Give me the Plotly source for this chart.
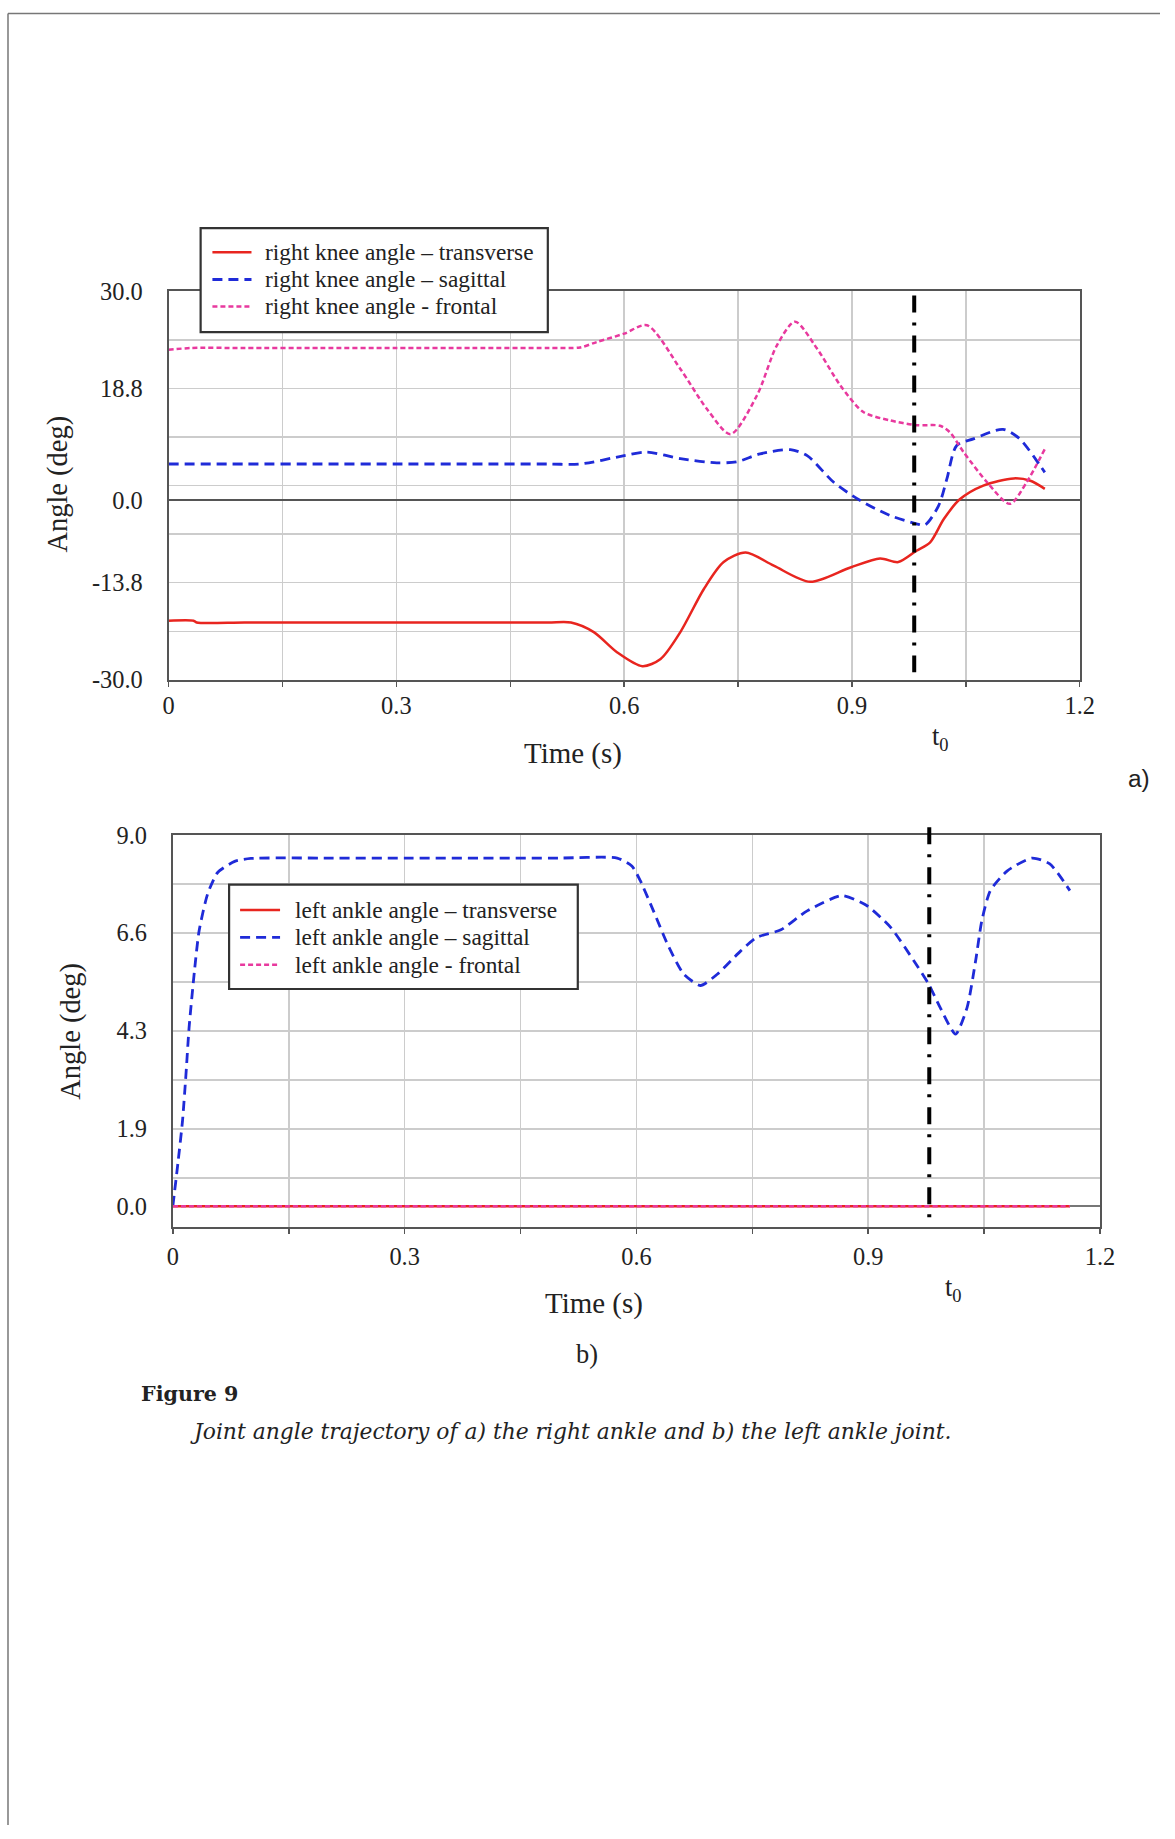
import plotly.graph_objects as go

# ---------------- data: panel a (right knee) ----------------
a_trans_t = [0, 0.033, 0.037, 0.1, 0.2, 0.3, 0.4, 0.5, 0.53, 0.56, 0.591, 0.624, 0.648, 0.674,
             0.705, 0.731, 0.760, 0.797, 0.845, 0.898, 0.937, 0.961, 0.985, 1.003, 1.021,
             1.042, 1.073, 1.113, 1.135, 1.154]
a_trans_v = [-20.1, -20.1, -20.4, -20.4, -20.4, -20.4, -20.4, -20.4, -20.4, -22.0, -25.4, -27.7,
             -26.5, -22.0, -14.8, -10.3, -8.7, -10.9, -13.6, -11.2, -9.7, -10.3, -8.4, -7.0,
             -3.1, 0.2, 2.5, 3.7, 3.3, 1.95]

a_sag_t = [0, 0.1, 0.2, 0.3, 0.4, 0.5, 0.542, 0.600, 0.630, 0.674, 0.722, 0.749, 0.779, 0.819,
           0.841, 0.876, 0.911, 0.950, 0.985, 0.996, 1.014, 1.025, 1.038, 1.060, 1.099, 1.121,
           1.148, 1.154]
a_sag_v = [6.1, 6.1, 6.1, 6.1, 6.1, 6.1, 6.1, 7.5, 8.1, 7.0, 6.3, 6.5, 7.8, 8.5, 7.5, 3.05, 0.0,
           -2.5, -3.9, -4.1, -0.9, 3.6, 9.2, 10.3, 11.9, 10.3, 5.8, 4.7]

a_front_t = [0, 0.03, 0.1, 0.2, 0.3, 0.4, 0.5, 0.542, 0.564, 0.600, 0.630, 0.674, 0.709, 0.740,
             0.775, 0.801, 0.825, 0.854, 0.885, 0.915, 0.950, 0.985, 1.016, 1.029, 1.047, 1.078,
             1.108, 1.130, 1.154]
a_front_v = [25.2, 25.5, 25.5, 25.5, 25.5, 25.5, 25.5, 25.6, 26.5, 27.9, 29.3, 22.0, 15.3, 11.1,
             17.6, 25.9, 29.9, 25.4, 19.2, 14.8, 13.4, 12.6, 12.5, 11.4, 8.1, 3.05, -0.56, 3.05, 8.6]

# ---------------- data: panel b (left ankle) ----------------
b_trans_t = [0, 0.3, 0.6, 0.9, 1.161]
b_trans_v = [0, 0, 0, 0, 0]

b_sag_t = [0, 0.0069, 0.0125, 0.017, 0.021, 0.028, 0.034, 0.045, 0.058, 0.080, 0.101, 0.2, 0.3,
           0.4, 0.5, 0.575, 0.594, 0.605, 0.622, 0.640, 0.661, 0.683, 0.705, 0.735, 0.756, 0.787,
           0.821, 0.866, 0.898, 0.929, 0.959, 0.978, 0.993, 1.013, 1.028, 1.039, 1.047, 1.058,
           1.080, 1.112, 1.135, 1.161]
b_sag_v = [0, 1.1, 2.07, 3.2, 4.33, 5.71, 6.68, 7.57, 8.09, 8.36, 8.43, 8.44, 8.44, 8.44, 8.44,
           8.44, 8.25, 7.89, 7.16, 6.36, 5.63, 5.35, 5.63, 6.19, 6.52, 6.70, 7.16, 7.53, 7.29,
           6.76, 5.95, 5.39, 4.82, 4.17, 4.82, 5.95, 6.92, 7.65, 8.13, 8.44, 8.30, 7.65]

b_front_t = [0, 0.3, 0.6, 0.9, 1.161]
b_front_v = [0, 0, 0, 0, 0]

t0_a = 0.982
t0_b = 0.979

# axis ticks
x_tick_vals = [0, 0.3, 0.6, 0.9, 1.2]
x_tick_text = ["0", "0.3", "0.6", "0.9", "1.2"]
a_ytick_vals = [35, 18.75, 0, -13.75, -30]
a_ytick_text = ["30.0", "18.8", "0.0", "-13.8", "-30.0"]
b_ytick_vals = [9, 6.625, 4.25, 1.875, 0]
b_ytick_text = ["9.0", "6.6", "4.3", "1.9", "0.0"]

a_names = ["right knee angle \u2013 transverse", "right knee angle \u2013 sagittal",
           "right knee angle - frontal"]
b_names = ["left ankle angle \u2013 transverse", "left ankle angle \u2013 sagittal",
           "left ankle angle - frontal"]

# ---------------- layout geometry ----------------
W, H = 1175, 1839
# the photographed page appears slightly scaled/offset; compensate so that
# positions measured on the reference land where they should
SX, SY = 0.983, 0.985
OX, OY = 5.0, 12.6
K = 1 / ((SX + SY) / 2)   # size compensation for fonts

FONT = "Liberation Serif"
TXT = "#222222"
RED = "#e8251f"
BLUE = "#1f2bd8"
PINK = "#e8399e"
GRID = "#cccccc"
FRAME = "#555555"

STYLES = [
    dict(color=RED, width=2.5),
    dict(color=BLUE, width=2.8, dash="10px,6px"),
    dict(color=PINK, width=2.5, dash="5px,3px"),
]


def px(x):
    return ((x - OX) / SX) / W


def py(y):
    return 1 - ((y - OY) / SY) / H


fig = go.Figure()

a_series = [(a_trans_t, a_trans_v), (a_sag_t, a_sag_v), (a_front_t, a_front_v)]
b_series = [(b_trans_t, b_trans_v), (b_sag_t, b_sag_v), (b_front_t, b_front_v)]

for (t, v), name, st in zip(a_series, a_names, STYLES):
    fig.add_trace(go.Scatter(x=t, y=v, mode="lines", name=name, showlegend=False,
                             line=dict(shape="spline", smoothing=0.8, **st), xaxis="x", yaxis="y"))
for (t, v), name, st in zip(b_series, b_names, STYLES):
    fig.add_trace(go.Scatter(x=t, y=v, mode="lines", name=name, showlegend=False,
                             line=dict(shape="spline", smoothing=0.6, **st), xaxis="x2", yaxis="y2"))

tickfont = dict(family=FONT, size=24 * K, color=TXT)

common_x = dict(
    range=[0, 1.2], tickmode="array", tickvals=x_tick_vals, ticktext=x_tick_text,
    showgrid=True, gridcolor=GRID, gridwidth=1.5, ticks="", tickfont=tickfont,
    showline=True, mirror=True, linecolor=FRAME, linewidth=2, zeroline=False,
    minor=dict(tickmode="linear", tick0=0, dtick=0.15, showgrid=True, gridcolor=GRID, gridwidth=1.5,
               ticks="outside", ticklen=5, tickcolor=FRAME, tickwidth=1.5),
    fixedrange=True,
)

fig.update_layout(
    width=W, height=H, margin=dict(l=0, r=0, t=0, b=0),
    paper_bgcolor="white", plot_bgcolor="white",
    font=dict(family=FONT, color=TXT),
    showlegend=False,
    xaxis=dict(domain=[px(167.7), px(1079.7)], anchor="y", ticklabelstandoff=3, **common_x),
    xaxis2=dict(domain=[px(172), px(1100)], anchor="y2", ticklabelstandoff=7, **common_x),
    yaxis=dict(domain=[py(679.3), py(290.7)], anchor="x", range=[-30, 35], tickmode="array",
               tickvals=a_ytick_vals, ticktext=a_ytick_text, tickfont=tickfont, ticks="",
               ticklabelstandoff=19, showgrid=False, showline=True, mirror=True, linecolor=FRAME,
               linewidth=2, zeroline=True, zerolinecolor=FRAME, zerolinewidth=2, fixedrange=True,
               minor=dict(tickmode="linear", tick0=-30, dtick=8.125, showgrid=True, gridcolor=GRID,
                          gridwidth=1.5)),
    yaxis2=dict(domain=[py(1226), py(834.3)], anchor="x2", range=[-0.5, 9], tickmode="array",
                tickvals=b_ytick_vals, ticktext=b_ytick_text, tickfont=tickfont, ticks="",
                ticklabelstandoff=19, showgrid=False, showline=True, mirror=True, linecolor=FRAME,
                linewidth=2, zeroline=True, zerolinecolor="#777777", zerolinewidth=2, fixedrange=True,
                minor=dict(tickmode="linear", tick0=-0.5, dtick=1.1875, showgrid=True, gridcolor=GRID,
                           gridwidth=1.5)),
)

# t0 marker lines (dash-dot)
dashdot = dict(color="black", width=4, dash="17px,10px,3px,10px")
fig.add_shape(type="line", xref="x", yref="y", x0=t0_a, x1=t0_a, y0=34.3, y1=-28.7, line=dashdot)
fig.add_shape(type="line", xref="x2", yref="paper", x0=t0_b, x1=t0_b, y0=py(826.7), y1=py(1220),
              line=dashdot)

# page frame
fig.add_shape(type="line", xref="paper", yref="paper", x0=px(7), x1=1, y0=py(13), y1=py(13),
              line=dict(color="#777777", width=1.5))
fig.add_shape(type="line", xref="paper", yref="paper", x0=px(7), x1=px(7), y0=py(13), y1=0,
              line=dict(color="#777777", width=1.5))

ann = []


def text(x, y, s, size=28, family=FONT, **kw):
    d = dict(x=px(x), y=py(y), xref="paper", yref="paper", text=s, showarrow=False,
             font=dict(family=family, size=size * K, color=TXT), xanchor="center", yanchor="middle")
    d.update(kw)
    ann.append(d)


# legends (boxed, drawn in the panel corner)
def legend_box(left, top, right, bottom, rows, x_line0, x_line1, x_text, names):
    fig.add_shape(type="rect", xref="paper", yref="paper", x0=px(left), x1=px(right),
                  y0=py(bottom), y1=py(top), fillcolor="white", line=dict(color="#333333", width=2.2),
                  layer="above")
    for yr, name, st in zip(rows, names, STYLES):
        fig.add_shape(type="line", xref="paper", yref="paper", x0=px(x_line0), x1=px(x_line1),
                      y0=py(yr), y1=py(yr), line=st, layer="above")
        text(x_text, yr, name, size=23, xanchor="left")


legend_box(199.8, 227.7, 547.3, 331.7, [251.7, 279.0, 306.0], 211.6, 250.7, 262.5, a_names)
legend_box(228.3, 884.0, 577.3, 988.3, [909.3, 936.7, 964.0], 239.3, 279.3, 291.8, b_names)

text(573, 753, "Time (s)", size=28.5)
text(593.6, 1303, "Time (s)", size=28.5)
text(57, 483, "Angle (deg)", textangle=-90)
text(70, 1030, "Angle (deg)", textangle=-90)
text(940.5, 737, "t<sub>0</sub>", size=26)
text(953.6, 1288, "t<sub>0</sub>", size=26)
text(1139, 778, "a)", size=24, family="Liberation Sans")
text(587, 1353, "b)", size=26)
text(138, 1393, "<b>Figure 9</b>", size=20.3, family="DejaVu Serif", xanchor="left")
text(570, 1431, "<i>Joint angle trajectory of a) the right ankle and b) the left ankle joint.</i>",
     size=21.5, family="DejaVu Serif")

fig.update_layout(annotations=ann)

post = ("document.body.style.margin='0';document.body.style.overflow='hidden';"
        "var d=document.getElementById('{plot_id}');d.style.position='absolute';"
        "d.style.left='0px';d.style.top='0px';")

fig.write_html("out.html", post_script=post, config={"displayModeBar": False, "staticPlot": True})
